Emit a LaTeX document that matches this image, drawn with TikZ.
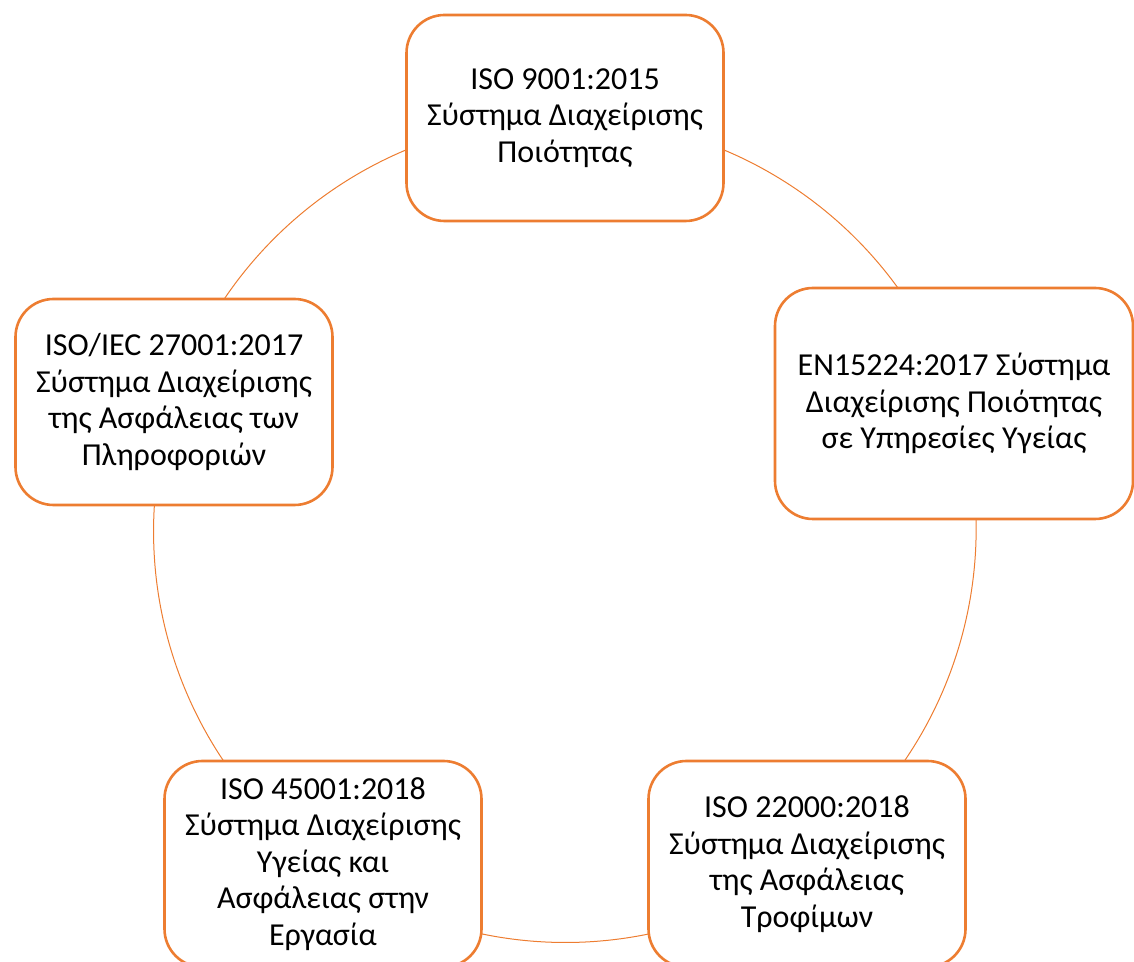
\documentclass[tikz,border=0pt]{standalone}
\usepackage{fontspec}
\setmainfont{Carlito}
\usetikzlibrary{backgrounds}
\definecolor{accent}{HTML}{ED7D31}
\tikzset{
  stdbox/.style={draw=accent, line width=2.6pt, rounded corners=38pt, fill=white,
    minimum width=317pt, minimum height=206pt, align=center, inner sep=0pt,
    font=\fontsize{32}{36.5}\selectfont},
  ring/.style={draw=accent, line width=1pt}
}
\begin{document}
\begin{tikzpicture}[x=1pt,y=1pt]
\useasboundingbox (0,0) rectangle (1134,961);
\clip (0,0) rectangle (1134,961);
% five standards placed round a circle of radius 411 centred at (565,432)
\node[stdbox] (iso9001) at (565,843) {ISO 9001:2015\\Σύστημα Διαχείρισης\\Ποιότητας};
\node[stdbox, minimum width=358pt, minimum height=231pt] (en15224) at (954,557.5)
  {EN15224:2017 Σύστημα\\Διαχείρισης Ποιότητας\\σε Υπηρεσίες Υγείας};
\node[stdbox] (iso22000) at (807,97) {ISO 22000:2018\\Σύστημα Διαχείρισης\\της Ασφάλειας\\Τροφίμων};
\node[stdbox] (iso45001) at (323,97) {ISO 45001:2018\\Σύστημα Διαχείρισης\\Υγείας και\\Ασφάλειας στην\\Εργασία};
\node[stdbox] (iso27001) at (174,559) {ISO/IEC 27001:2017\\Σύστημα Διαχείρισης\\της Ασφάλειας των\\Πληροφοριών};
% connecting ring, drawn behind the boxes
\begin{scope}[on background layer]
  \draw[ring] (iso9001.center) arc[start angle=90, end angle=18, radius=411];
  \draw[ring] (en15224.center) ++(2,1.5) arc[start angle=18, end angle=-54, radius=411];
  \draw[ring] (iso22000.center) arc[start angle=-54, end angle=-126, radius=411];
  \draw[ring] (iso45001.center) arc[start angle=-126, end angle=-198, radius=411];
  \draw[ring] (iso27001.center) arc[start angle=162, end angle=90, radius=411];
\end{scope}
\end{tikzpicture}
\end{document}
